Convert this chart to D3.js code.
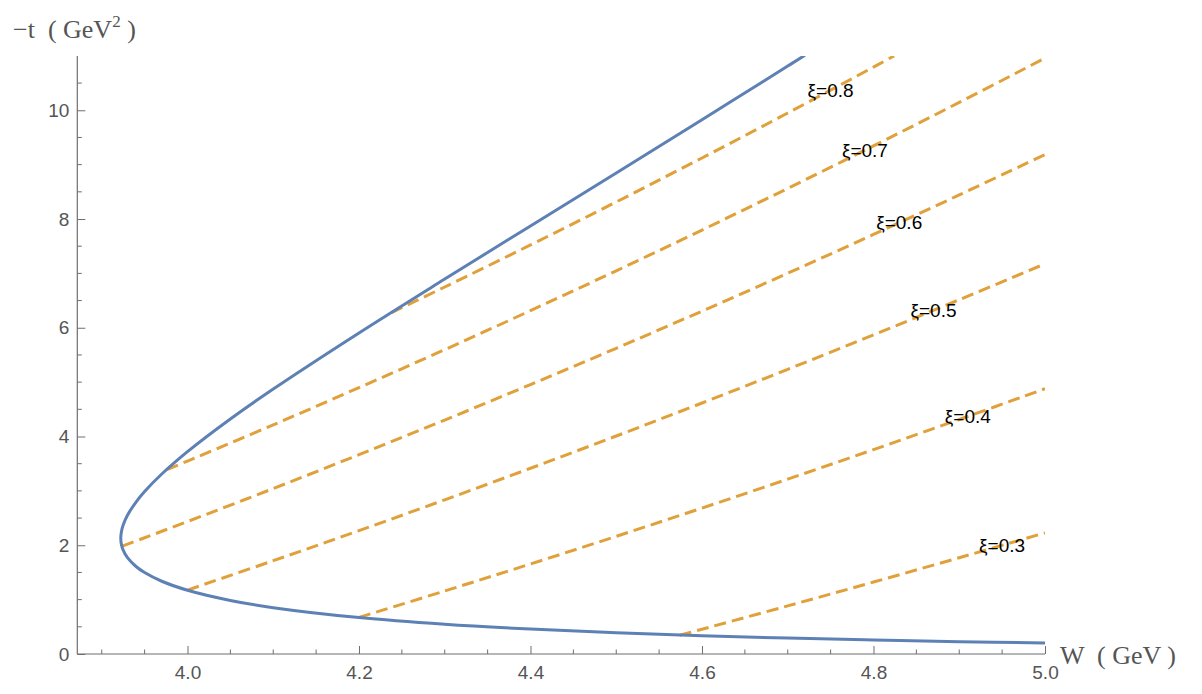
<!DOCTYPE html>
<html>
<head>
<meta charset="utf-8">
<script src="https://cdn.jsdelivr.net/npm/d3@7"></script>
<style>
  body { margin: 0; background: #fff; }
  svg { display: block; }
  text { white-space: pre; }
</style>
</head>
<body>
<div class="chart"></div>
<script>
// kinematic boundary (W in GeV, -t in GeV^2), upper branch -> threshold -> lower branch
let boundaryW = [4.72, 4.7, 4.6, 4.5, 4.4, 4.3, 4.2, 4.1, 4.05, 4.0, 3.97, 3.95, 3.94, 3.93, 3.925, 3.923,
  3.9222,
  3.923, 3.925, 3.93, 3.94, 3.95, 3.97, 4.0, 4.05, 4.1, 4.2, 4.3, 4.4, 4.5, 4.6, 4.7, 4.8, 4.9, 5.0]
let boundaryT = [11.012, 10.813, 9.826, 8.847, 7.873, 6.896, 5.905, 4.873, 4.323, 3.722, 3.310, 2.988, 2.795, 2.552, 2.373, 2.254,
  2.130,
  2.012, 1.909, 1.771, 1.609, 1.498, 1.338, 1.172, 0.985, 0.852, 0.670, 0.547, 0.458, 0.389, 0.336, 0.292, 0.257, 0.226, 0.202]

// constant xi lines
let xiLevels = [0.8, 0.7, 0.6, 0.5, 0.4, 0.3]
let xi08W = [4.238, 4.3, 4.4, 4.5, 4.6, 4.7, 4.8, 4.824]
let xi08T = [6.28, 6.750, 7.523, 8.314, 9.123, 9.950, 10.794, 11.0]
let xi07W = [3.976, 4.0, 4.1, 4.2, 4.3, 4.4, 4.5, 4.6, 4.7, 4.8, 4.9, 5.0]
let xi07T = [3.39, 3.548, 4.215, 4.899, 5.598, 6.315, 7.048, 7.797, 8.563, 9.345, 10.144, 10.960]
let xi06W = [3.924, 3.95, 4.0, 4.1, 4.2, 4.3, 4.4, 4.5, 4.6, 4.7, 4.8, 4.9, 5.0]
let xi06T = [1.985, 2.138, 2.436, 3.043, 3.666, 4.303, 4.956, 5.623, 6.306, 7.003, 7.716, 8.443, 9.186]
let xi05W = [4.0, 4.1, 4.2, 4.3, 4.4, 4.5, 4.6, 4.7, 4.8, 4.9, 5.0]
let xi05T = [1.176, 1.716, 2.269, 2.836, 3.416, 4.009, 4.616, 5.236, 5.869, 6.516, 7.176]
let xi04W = [4.2, 4.3, 4.4, 4.5, 4.6, 4.7, 4.8, 4.9, 5.0]
let xi04T = [0.673, 1.159, 1.656, 2.164, 2.684, 3.216, 3.759, 4.313, 4.879]
let xi03W = [4.574, 4.6, 4.7, 4.8, 4.9, 5.0]
let xi03T = [0.346, 0.456, 0.885, 1.323, 1.771, 2.228]

// where the labels sit on each line
let labelW = [4.75, 4.79, 4.83, 4.87, 4.91, 4.95]
let labelT = [10.369, 9.266, 7.933, 6.321, 4.369, 1.999]

// ticks
let xMajor = [4.0, 4.2, 4.4, 4.6, 4.8, 5.0]
let xMinor = [3.9, 3.95, 4.05, 4.1, 4.15, 4.25, 4.3, 4.35, 4.45, 4.5, 4.55, 4.65, 4.7, 4.75, 4.85, 4.9, 4.95]
let yMajor = [0, 2, 4, 6, 8, 10]
let yMinor = [0.5, 1, 1.5, 2.5, 3, 3.5, 4.5, 5, 5.5, 6.5, 7, 7.5, 8.5, 9, 9.5, 10.5]

//图表样式
let style = {
  w: 1202,
  h: 694,
  left: 77.3,
  right: 1045,
  top: 55.9,
  bottom: 654,
  blue: '#5e81b5',
  orange: '#e0a03a',
  axis: '#6e6e6e',
  tickText: '#555'
}

let zip = (a, b) => a.map((v, i) => [v, b[i]])
let xiLines = [
  zip(xi08W, xi08T), zip(xi07W, xi07T), zip(xi06W, xi06T),
  zip(xi05W, xi05T), zip(xi04W, xi04T), zip(xi03W, xi03T)
]

let x = d3.scaleLinear().domain([3.8715, 5.0]).range([style.left, style.right])
let y = d3.scaleLinear().domain([0, 11]).range([style.bottom, style.top])

let svg = d3.select('.chart')
  .append('svg')
  .attr('width', style.w)
  .attr('height', style.h)

svg.append('clipPath')
  .attr('id', 'plot')
  .append('rect')
  .attr('x', style.left)
  .attr('y', style.top)
  .attr('width', style.right - style.left)
  .attr('height', style.bottom - style.top)

let line = d3.line()
  .x(d => x(d[0]))
  .y(d => y(d[1]))
  .curve(d3.curveCatmullRom)

let plot = svg.append('g').attr('clip-path', 'url(#plot)')

//虚线 xi
plot.selectAll('path.xi')
  .data(xiLines)
  .enter()
  .append('path')
  .attr('class', 'xi')
  .attr('d', line)
  .attr('fill', 'none')
  .attr('stroke', style.orange)
  .attr('stroke-width', 3)
  .attr('stroke-dasharray', '12,6')

//边界
plot.append('path')
  .datum(zip(boundaryW, boundaryT))
  .attr('d', line)
  .attr('fill', 'none')
  .attr('stroke', style.blue)
  .attr('stroke-width', 3)

//坐标轴
let xAxis = d3.axisBottom(x).tickValues(xMajor).tickSize(-8).tickPadding(12).tickFormat(d3.format('.1f'))
let yAxis = d3.axisLeft(y).tickValues(yMajor).tickSize(-8).tickPadding(8).tickFormat(d3.format('d'))

let gx = svg.append('g')
  .attr('transform', `translate(0, ${style.bottom})`)
  .call(xAxis)
let gy = svg.append('g')
  .attr('transform', `translate(${style.left}, 0)`)
  .call(yAxis)

gx.select('.domain').attr('d', `M${style.left},0H${style.right}`)
gy.select('.domain').attr('d', `M0,${style.bottom}V${style.top}`)

svg.selectAll('.tick line').attr('stroke', style.axis)
svg.selectAll('.domain').attr('stroke', style.axis).attr('stroke-width', 1.2)

svg.selectAll('.tick text')
  .attr('fill', style.tickText)
  .attr('font-family', 'Liberation Sans, Arial, sans-serif')
  .attr('font-size', 19)

// minor ticks
gx.selectAll('line.minor')
  .data(xMinor)
  .enter()
  .append('line')
  .attr('class', 'minor')
  .attr('x1', d => x(d))
  .attr('x2', d => x(d))
  .attr('y1', 0)
  .attr('y2', -4.5)
  .attr('stroke', style.axis)
gy.selectAll('line.minor')
  .data(yMinor)
  .enter()
  .append('line')
  .attr('class', 'minor')
  .attr('y1', d => y(d))
  .attr('y2', d => y(d))
  .attr('x1', 0)
  .attr('x2', 4.5)
  .attr('stroke', style.axis)

//标签
svg.selectAll('text.xi')
  .data(xiLevels)
  .enter()
  .append('text')
  .attr('class', 'xi')
  .attr('x', (d, i) => x(labelW[i]))
  .attr('y', (d, i) => y(labelT[i]))
  .attr('text-anchor', 'middle')
  .attr('dominant-baseline', 'central')
  .attr('font-family', 'Liberation Sans, Arial, sans-serif')
  .attr('font-size', 19)
  .attr('fill', '#000')
  .text(d => 'ξ=' + d.toFixed(1))

// axis titles
svg.append('text')
  .attr('x', 1060)
  .attr('y', 664)
  .attr('font-family', 'Liberation Serif, Times New Roman, serif')
  .attr('font-size', 26)
  .attr('fill', '#555')
  .text('W  ( GeV )')

let yTitle = svg.append('text')
  .attr('x', 13)
  .attr('y', 38)
  .attr('font-family', 'Liberation Serif, Times New Roman, serif')
  .attr('font-size', 26)
  .attr('fill', '#555')
yTitle.append('tspan').text('−t  ( GeV')
yTitle.append('tspan').attr('font-size', 17).attr('dy', -11).text('2')
yTitle.append('tspan').attr('dy', 11).text(' )')
</script>
</body>
</html>
